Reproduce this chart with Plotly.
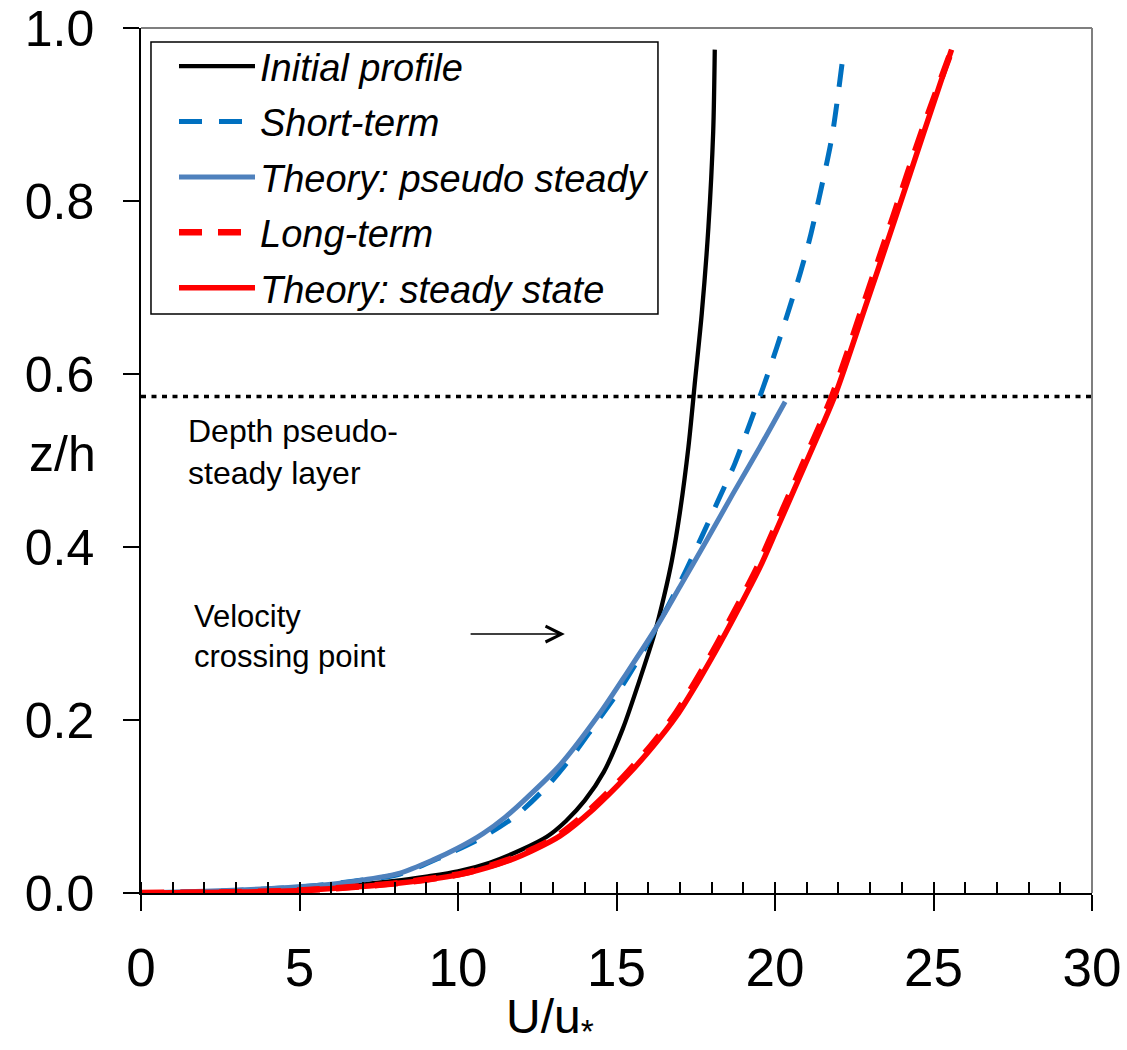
import plotly.graph_objects as go

# Velocity profiles: U/u* against relative depth z/h
init_u = [0, 2, 4, 6, 8, 9, 10, 11, 12, 12.8, 13.4, 14.0, 14.6, 15.2, 15.7, 16.2, 16.5, 16.75, 17.0, 17.27,
          17.48, 17.69, 17.9, 18.05, 18.1]
init_z = [0, 0.001, 0.003, 0.007, 0.014, 0.019, 0.025, 0.035, 0.050, 0.065, 0.083, 0.107, 0.140, 0.19, 0.243,
          0.30, 0.343, 0.385, 0.44, 0.516, 0.593, 0.67, 0.77, 0.88, 0.975]

short_u = [0, 3, 5, 7, 8.17, 9.5, 10.8, 11.85, 12.9, 13.64, 14.27, 15.1, 15.85, 16.53, 17.1, 17.69, 18.21, 18.74,
           19.21, 19.63, 20.05, 20.4, 20.8, 21.1, 21.4, 21.8, 22.15]
short_z = [0, 0.003, 0.007, 0.015, 0.022, 0.042, 0.065, 0.09, 0.127, 0.16, 0.192, 0.235, 0.28, 0.325, 0.366,
           0.412, 0.454, 0.497, 0.543, 0.585, 0.63, 0.670, 0.717, 0.757, 0.805, 0.875, 0.969]

pseudo_u = [0, 2, 4, 6, 7, 8.17, 9.2, 10, 10.8, 11.5, 12.17, 13.22, 14.48, 15.32, 16.27, 17.0, 17.85, 18.68,
            19.53, 20.32]
pseudo_z = [0, 0.002, 0.005, 0.01, 0.015, 0.023, 0.038, 0.052, 0.069, 0.088, 0.11, 0.148, 0.208, 0.254, 0.308,
            0.354, 0.408, 0.462, 0.516, 0.568]

long_u = [0, 3, 5, 8.12, 10.2, 11.56, 12.32, 13.14, 14.19, 15.24, 16.08, 16.82, 17.55, 18.19, 18.82, 19.45,
          19.97, 20.52, 21.12, 21.82, 22.82, 23.76, 24.63, 25.6]
long_z = [0, 0.001, 0.003, 0.0115, 0.023, 0.038, 0.05, 0.066, 0.097, 0.135, 0.17, 0.205, 0.248, 0.289, 0.332,
          0.377, 0.42, 0.466, 0.516, 0.576, 0.683, 0.785, 0.88, 0.977]

steady_u = [0, 3, 5, 8.17, 10.27, 11.64, 12.4, 13.22, 14.27, 15.32, 16.16, 16.9, 17.63, 18.27, 18.9, 19.53,
            20.05, 20.6, 21.2, 21.9, 22.9, 23.84, 24.7, 25.57]
steady_z = [0, 0.001, 0.003, 0.0115, 0.023, 0.038, 0.05, 0.066, 0.097, 0.135, 0.17, 0.205, 0.248, 0.289, 0.332,
            0.377, 0.42, 0.466, 0.516, 0.576, 0.683, 0.785, 0.88, 0.975]

# depth of the pseudo-steady layer
layer_depth = 0.574

x_ticks = [0, 5, 10, 15, 20, 25, 30]
y_ticks = [0.0, 0.2, 0.4, 0.6, 0.8, 1.0]

FONT = "Liberation Sans, Arial, sans-serif"
SMOOTH = 0.8

fig = go.Figure()

fig.add_trace(go.Scatter(x=[0, 30], y=[layer_depth, layer_depth], mode="lines", showlegend=False,
                         line=dict(color="black", width=3.5, dash="5px,5.5px"), hoverinfo="skip"))

fig.add_trace(go.Scatter(x=init_u, y=init_z, mode="lines", name="Initial profile", legendgroup="a",
                         line=dict(color="black", width=4.3, shape="spline", smoothing=SMOOTH)))
fig.add_trace(go.Scatter(x=short_u, y=short_z, mode="lines", name="Short-term", legendgroup="b",
                         line=dict(color="#0070C0", width=5, dash="23px,17px", shape="spline", smoothing=SMOOTH)))
fig.add_trace(go.Scatter(x=pseudo_u, y=pseudo_z, mode="lines", name="Theory: pseudo steady", legendgroup="c",
                         line=dict(color="#4F81BD", width=5, shape="spline", smoothing=SMOOTH)))
fig.add_trace(go.Scatter(x=long_u, y=long_z, mode="lines", name="Long-term", legendgroup="d",
                         line=dict(color="#FF0000", width=6.5, dash="23px,16px", shape="spline", smoothing=SMOOTH)))
fig.add_trace(go.Scatter(x=steady_u, y=steady_z, mode="lines", name="Theory: steady state", legendgroup="e",
                         line=dict(color="#FF0000", width=5.5, shape="spline", smoothing=SMOOTH)))

fig.update_layout(
    width=1127, height=1050,
    margin=dict(l=141, r=35, t=28, b=157, autoexpand=False),
    paper_bgcolor="white", plot_bgcolor="white",
    font=dict(family=FONT, color="black"),
    showlegend=True,
    legend=dict(x=0.0347, y=0.992, xanchor="left", yanchor="top",
                borderwidth=0, bgcolor="rgba(0,0,0,0)",
                font=dict(size=38, style="italic", family=FONT, color="black"),
                itemwidth=76, tracegroupgap=3, traceorder="grouped"),
    xaxis=dict(range=[0, 30], tickvals=x_ticks, ticks="outside", ticklen=16, tickwidth=1.5,
               tickcolor="black", showline=True, linecolor="black", linewidth=1.5, automargin=False,
               showgrid=False, zeroline=False, tickfont=dict(size=53, family=FONT),
               ticklabelstandoff=12, ticklabeloverflow="allow",
               minor=dict(dtick=1, ticks="inside", ticklen=11, tickwidth=1.5, tickcolor="black", showgrid=False)),
    xaxis2=dict(range=[0, 30], overlaying="x", anchor="y", side="bottom", tickvals=x_ticks,
                ticks="inside", ticklen=11, tickwidth=1.5, tickcolor="black", automargin=False,
                showticklabels=False, showline=False, showgrid=False, zeroline=False),
    yaxis=dict(range=[0, 1], tickvals=y_ticks, tickformat=".1f", ticks="outside", ticklen=16, tickwidth=1.5,
               tickcolor="black", showline=True, linecolor="black", linewidth=1.5, automargin=False,
               showgrid=False, zeroline=False, tickfont=dict(size=50, family=FONT),
               ticklabelstandoff=19, ticklabeloverflow="allow"),
)

# grey frame on the top and right of the plotting area
fig.add_shape(type="line", xref="paper", yref="paper", x0=0, x1=1, y0=1, y1=1,
              line=dict(color="#7f7f7f", width=2))
fig.add_shape(type="line", xref="paper", yref="paper", x0=1, x1=1, y0=0, y1=1,
              line=dict(color="#7f7f7f", width=2))
# legend frame
fig.add_shape(type="rect", xref="paper", yref="paper", x0=0.0105, x1=0.5436, y0=0.6694, y1=0.9838,
              line=dict(color="black", width=1.5), fillcolor="white", layer="below")

# axis titles
fig.add_annotation(x=-0.083, y=0.507, xref="paper", yref="paper", text="z/h", showarrow=False,
                   font=dict(size=50, family=FONT), xanchor="center", yanchor="middle")
fig.add_annotation(x=0.43, y=-0.147, xref="paper", yref="paper", text="U/u<sub>*</sub>", showarrow=False,
                   font=dict(size=48, family=FONT), xanchor="center", yanchor="middle")

# text notes
fig.add_annotation(x=1.42, y=0.51, xref="x", yref="y", text="Depth pseudo-<br>steady layer",
                   showarrow=False, align="left", xanchor="left", yanchor="middle",
                   font=dict(size=32, family=FONT))
fig.add_annotation(x=1.61, y=0.297, xref="x", yref="y", text="Velocity<br>crossing point",
                   showarrow=False, align="left", xanchor="left", yanchor="middle",
                   font=dict(size=31, family=FONT))
fig.add_annotation(x=13.37, y=0.2994, ax=10.35, ay=0.2994, xref="x", yref="y", axref="x", ayref="y",
                   text="", showarrow=True, arrowhead=5, arrowsize=2.4, arrowwidth=1.3, arrowcolor="black")

fig.write_html("out.html")
